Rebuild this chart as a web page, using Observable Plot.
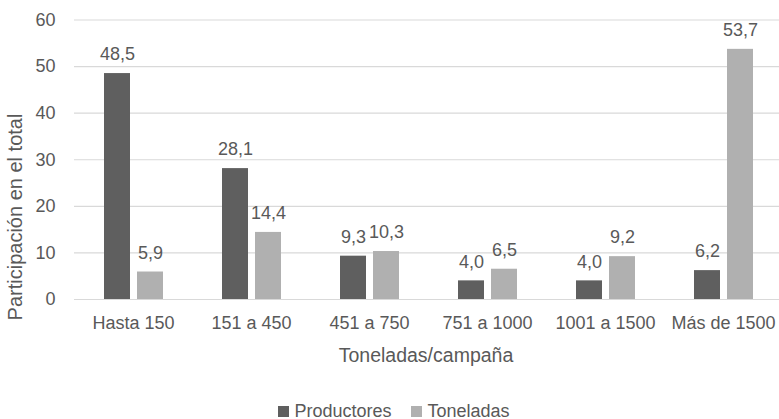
<!DOCTYPE html>
<html>
<head>
<meta charset="utf-8">
<script src="https://cdn.jsdelivr.net/npm/d3@7"></script>
<script src="https://cdn.jsdelivr.net/npm/@observablehq/plot@0.6"></script>
<style>
  html, body { margin: 0; padding: 0; background: #fff; }
  body { width: 779px; height: 419px; overflow: hidden; font-family: "Liberation Sans", Arial, sans-serif; }
  #legend { display: flex; justify-content: center; align-items: center; height: 24px; padding-top: 4px; padding-left: 9px; font-size: 18px; color: #595959; }
  .sw { display: inline-block; width: 11px; height: 11px; margin-right: 5px; }
  .item { display: flex; align-items: center; margin: 0 10px; }
</style>
</head>
<body>
<div id="chart"></div>
<div id="legend"></div>
<script>
const categories = ["Hasta 150", "151 a 450", "451 a 750", "751 a 1000", "1001 a 1500", "Más de 1500"];
const series = ["Productores", "Toneladas"];
const productores = [48.5, 28.1, 9.3, 4.0, 4.0, 6.2];
const toneladas = [5.9, 14.4, 10.3, 6.5, 9.2, 53.7];
const yTicks = [0, 10, 20, 30, 40, 50, 60];
const colors = ["#5f5f5f", "#b0b0b0"];
const xTitle = "Toneladas/campaña";
const yTitle = "Participación en el total";

const data = [];
categories.forEach((c, i) => {
  data.push({cat: c, serie: series[0], value: productores[i]});
  data.push({cat: c, serie: series[1], value: toneladas[i]});
});
const fmt = v => d3.format(".1f")(v).replace(".", ",");
const textColor = "#595959";

const chart = Plot.plot({
  width: 779,
  height: 395,
  marginLeft: 71,
  marginRight: -5,
  marginTop: 19.5,
  marginBottom: 96,
  style: {fontFamily: "'Liberation Sans', Arial, sans-serif", color: textColor, background: "white"},
  fx: {domain: categories, padding: 0},
  x: {domain: series, paddingInner: 0.215, paddingOuter: 0.854, axis: null},
  y: {domain: [0, 60]},
  color: {domain: series, range: colors},
  marks: [
    Plot.gridY(yTicks, {stroke: "#d9d9d9", strokeOpacity: 1, strokeWidth: 1.2}),
    Plot.barY(data, {fx: "cat", x: "serie", y: "value", fill: "serie"}),
    Plot.text(data, {fx: "cat", x: "serie", y: "value", text: d => fmt(d.value), dy: -19, lineAnchor: "middle", fontSize: 18, fill: textColor}),
    Plot.axisY({ticks: yTicks, tickSize: 0, tickPadding: 19, fontSize: 18, label: null, tickFormat: d => String(d)}),
    Plot.axisFx({anchor: "bottom", tickSize: 0, tickPadding: 17, fontSize: 18, label: null})
  ]
});
document.getElementById("chart").appendChild(chart);

const svg = d3.select(chart);
svg.append("text")
  .attr("x", 426).attr("y", 355).attr("dy", "0.35em")
  .attr("text-anchor", "middle")
  .attr("font-size", 19.5).attr("fill", textColor)
  .text(xTitle);
svg.append("text")
  .attr("transform", "translate(15,217) rotate(-90)")
  .attr("dy", "0.35em")
  .attr("text-anchor", "middle")
  .attr("font-size", 20).attr("fill", textColor)
  .text(yTitle);

const legend = d3.select("#legend");
series.forEach((s, i) => {
  const it = legend.append("span").attr("class", "item");
  it.append("span").attr("class", "sw").style("background", colors[i]);
  it.append("span").text(s);
});
</script>
</body>
</html>
